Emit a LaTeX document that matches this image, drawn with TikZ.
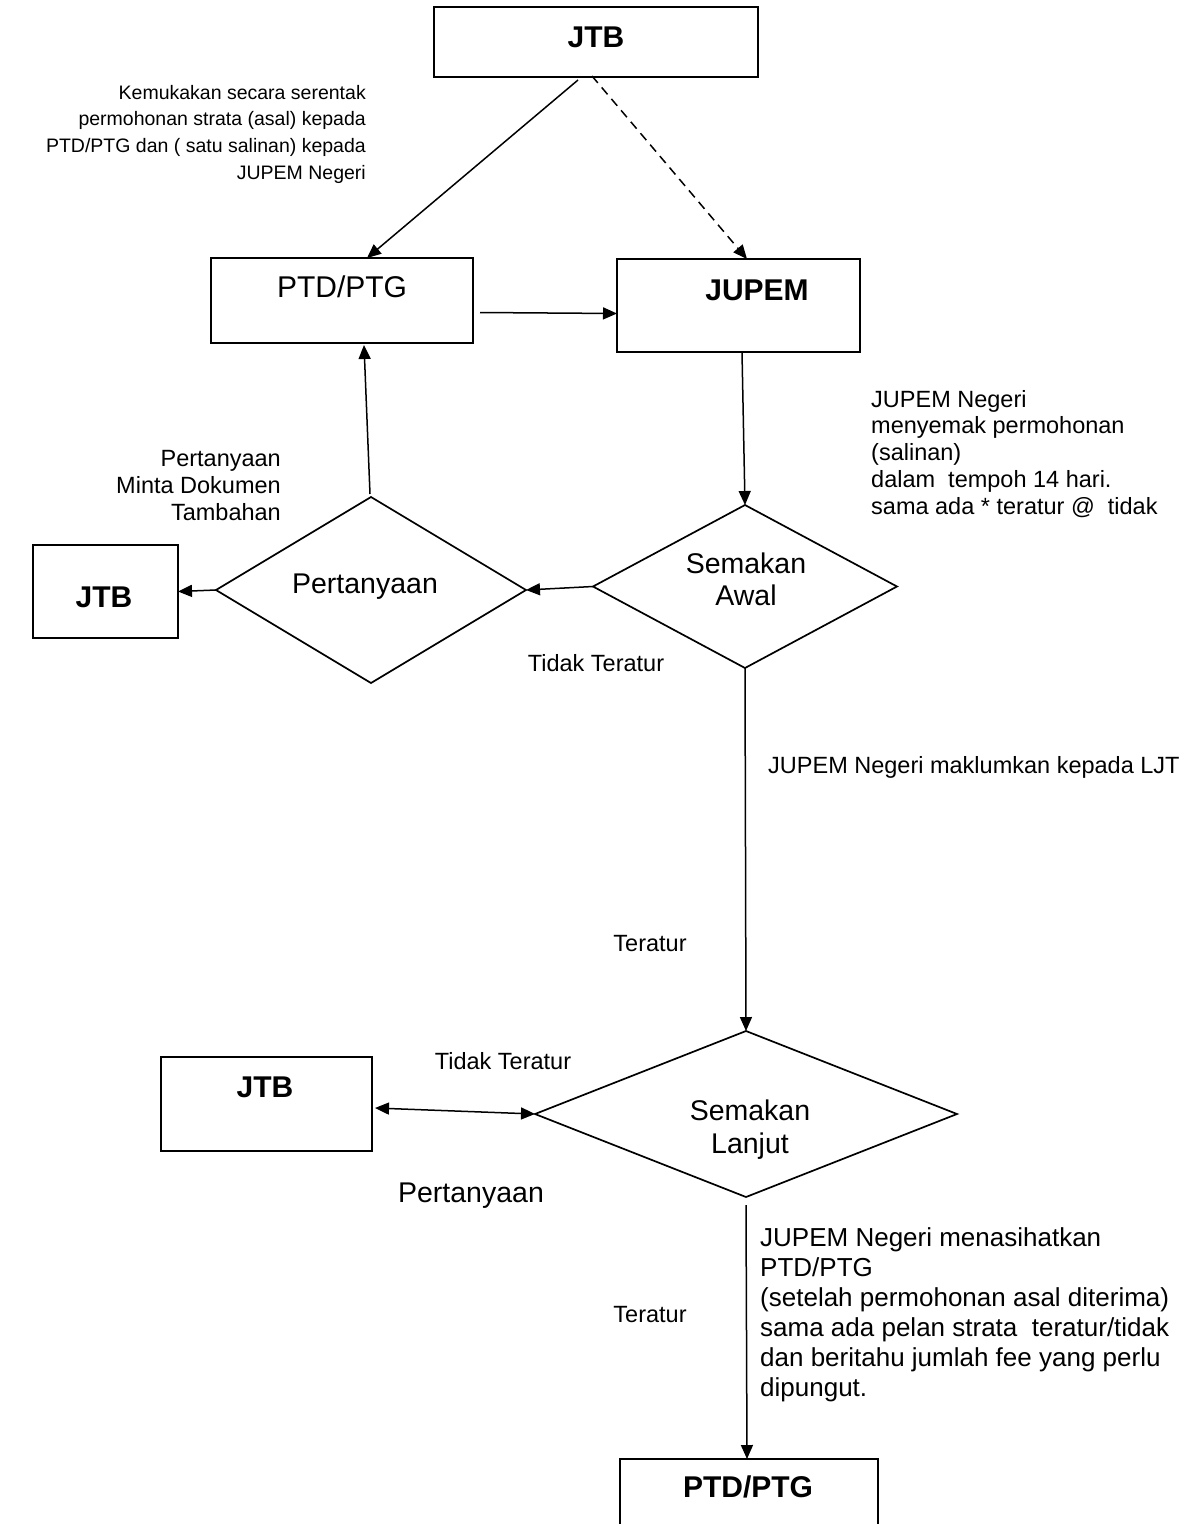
\documentclass[tikz,border=0pt]{standalone}
\usepackage{fontspec}
\setmainfont{Liberation Sans}
\usetikzlibrary{arrows.meta,shapes.geometric,calc}
\begin{document}
\begin{tikzpicture}[x=1pt,y=-1pt,
  box/.style={draw, line width=1.9pt, inner sep=0pt, outer sep=0pt},
  dia/.style={draw, diamond, line width=1.7pt, inner sep=0pt, outer sep=0pt},
  conn/.style={line width=1.5pt, -{Triangle[length=14pt,width=12pt]}},
  dconn/.style={conn, dash pattern=on 9pt off 6pt},
  biconn/.style={line width=1.5pt, {Triangle[length=14pt,width=12pt]}-{Triangle[length=14pt,width=12pt]}},
  small/.style={inner sep=0pt, font=\fontsize{19.5}{24}\selectfont},
  lbl/.style={inner sep=0pt, font=\fontsize{23.5}{27}\selectfont},
  mid/.style={inner sep=0pt, font=\fontsize{26}{30}\selectfont},
  big/.style={inner sep=0pt, font=\fontsize{28.5}{32}\selectfont},
  boxtxt/.style={inner sep=0pt, font=\fontsize{30}{34}\selectfont},
  heavy/.style={inner sep=0pt, font=\fontsize{30}{34}\selectfont\bfseries}]
\fill[white] (0,0) rectangle (1188,1524);
\useasboundingbox (0,0) rectangle (1188,1524);

% boxes
\node[box, minimum width=324pt, minimum height=70pt] (jtbtop) at (596,42) {};
\node[box, minimum width=262pt, minimum height=85pt] (ptd1) at (342,300.5) {};
\node[box, minimum width=243pt, minimum height=93pt] (jupem) at (738.5,305.5) {};
\node[box, minimum width=145pt, minimum height=93pt] (jtbL) at (105.5,591.5) {};
\node[box, minimum width=211pt, minimum height=94pt] (jtbB) at (266.5,1104) {};
\node[box, minimum width=258pt, minimum height=120pt] (ptd2) at (749,1519) {};

% diamonds
\node[dia, minimum width=304pt, minimum height=163pt] (awal) at (745,586.5) {};
\node[dia, minimum width=310pt, minimum height=186pt] (pert) at (371,590) {};
\node[dia, minimum width=422pt, minimum height=166pt] (lanjut) at (746,1114) {};

% box texts
\node[heavy, anchor=base] (jtbtopT) at (596,47) {JTB};
\node[boxtxt, anchor=base] (ptd1T) at (342,297) {PTD/PTG};
\node[heavy, anchor=base] (jupemT) at (757,300) {JUPEM};
\node[heavy, anchor=base] (jtbLT) at (104,607) {JTB};
\node[heavy, anchor=base] (jtbBT) at (265,1097) {JTB};
\node[heavy, anchor=base] (ptd2T) at (748,1497) {PTD/PTG};

% diamond texts
\node[big, anchor=base] (awalT1) at (746,573) {Semakan};
\node[big, anchor=base] (awalT2) at (746,605) {Awal};
\node[big, anchor=base] (pertT) at (365,593) {Pertanyaan};
\node[big, anchor=base] (lanjutT1) at (750,1120) {Semakan};
\node[big, anchor=base] (lanjutT2) at (750,1153) {Lanjut};

% connectors
\draw[conn] ($(jtbtop.south)+(-18,3)$) -- ($(ptd1.north)+(25,0)$);
\draw[dconn] ($(jtbtop.south)+(-4,-1)$) -- ($(jupem.north west)+(130,0)$);
\draw[conn] ($(ptd1.east)+(7,12)$) -- ($(jupem.west)+(0,8)$);
\draw[conn] ($(jupem.south)+(3.5,0)$) -- (awal.north);
\draw[conn] (awal.west) -- (pert.east);
\draw[conn] (pert.west) -- (jtbL.east);
\draw[conn] ($(pert.north)+(-1,-3)$) -- ($(ptd1.south)+(22,2)$);
\draw[conn] (awal.south) -- (lanjut.north);
\draw[biconn] ($(jtbB.east)+(3,4)$) -- (lanjut.west);
\draw[conn] ($(lanjut.south)+(0,8)$) -- ($(ptd2.north)+(-2,0)$);

% top-left annotation
\node[small, anchor=base east] (k1) at (366,99) {Kemukakan secara serentak};
\node[small, anchor=base east] (k2) at (366,125) {permohonan strata (asal) kepada};
\node[small, anchor=base east] (k3) at (366,152) {PTD/PTG dan ( satu salinan) kepada};
\node[small, anchor=base east] (k4) at (366,179) {JUPEM Negeri};

% upper-right annotation
\node[lbl, anchor=base west] (j1) at (871,407) {JUPEM Negeri};
\node[lbl, anchor=base west] (j2) at (871,433) {menyemak permohonan};
\node[lbl, anchor=base west] (j3) at (871,460) {(salinan)};
\node[lbl, anchor=base west] (j4) at (871,487) {dalam\ \ tempoh 14 hari.};
\node[lbl, anchor=base west] (j5) at (871,514) {sama ada * teratur @\ \ tidak};

% left annotation
\node[lbl, anchor=base east] (p1) at (281,466) {Pertanyaan};
\node[lbl, anchor=base east] (p2) at (281,493) {Minta Dokumen};
\node[lbl, anchor=base east] (p3) at (281,520) {Tambahan};

% other labels
\node[lbl, anchor=base] (tt1) at (596,671) {Tidak Teratur};
\node[lbl, anchor=base west] (maklum) at (768,773) {JUPEM Negeri maklumkan kepada LJT};
\node[lbl, anchor=base] (ter1) at (650,951) {Teratur};
\node[lbl, anchor=base] (tt2) at (503,1069) {Tidak Teratur};
\node[big, anchor=base] (pert2) at (471,1202) {Pertanyaan};
\node[lbl, anchor=base] (ter2) at (650,1322) {Teratur};

% bottom-right annotation
\node[mid, anchor=base west] (n1) at (760,1246) {JUPEM Negeri menasihatkan};
\node[mid, anchor=base west] (n2) at (760,1276) {PTD/PTG};
\node[mid, anchor=base west] (n3) at (760,1306) {(setelah permohonan asal diterima)};
\node[mid, anchor=base west] (n4) at (760,1336) {sama ada pelan strata\ \ teratur/tidak};
\node[mid, anchor=base west] (n5) at (760,1366) {dan beritahu jumlah fee yang perlu};
\node[mid, anchor=base west] (n6) at (760,1396) {dipungut.};
\end{tikzpicture}
\end{document}
